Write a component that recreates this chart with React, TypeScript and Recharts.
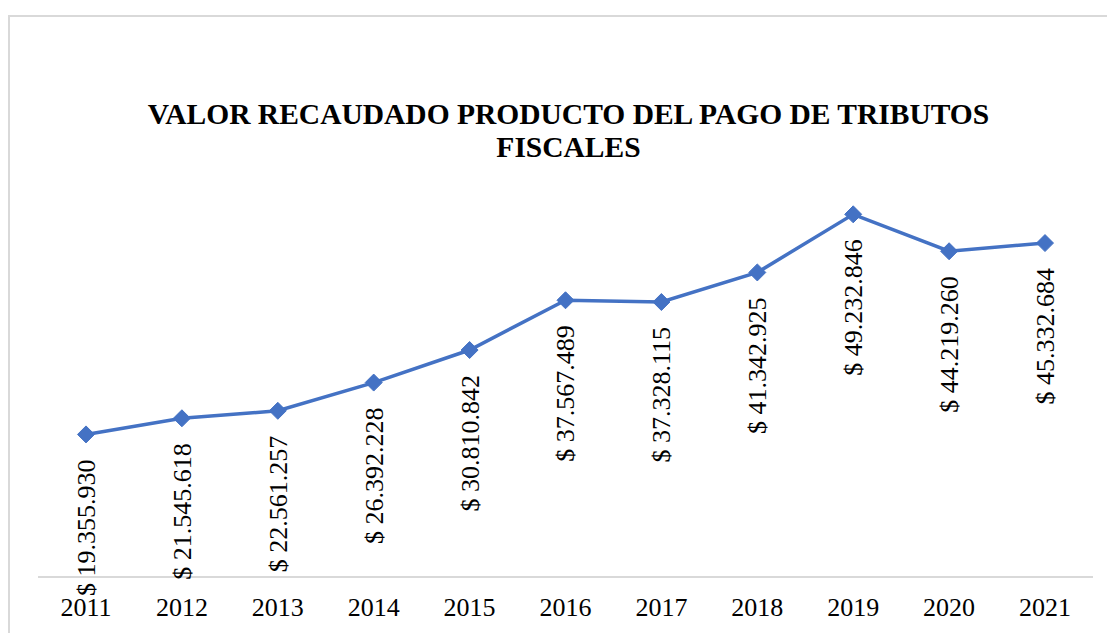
import { LabelList, Line, LineChart, XAxis, YAxis } from "recharts";

const years = ["2011", "2012", "2013", "2014", "2015", "2016", "2017", "2018", "2019", "2020", "2021"];
const recaudo = [
  19355930, 21545618, 22561257, 26392228, 30810842, 37567489, 37328115, 41342925, 49232846,
  44219260, 45332684,
];

const BLUE = "#4472C4";
const FONT = "'Liberation Serif', 'Times New Roman', serif";

const data = years.map((year, i) => ({ year, value: recaudo[i] }));

function formatPeso(v: number): string {
  return "$ " + v.toLocaleString("de-DE");
}

function Diamond(props: any) {
  const { cx, cy } = props;
  if (cx == null || cy == null) return null;
  const r = 8.5;
  return (
    <path
      d={`M${cx},${cy - r} L${cx + r},${cy} L${cx},${cy + r} L${cx - r},${cy} Z`}
      fill={BLUE}
      stroke={BLUE}
    />
  );
}

function RotatedLabel(props: any) {
  const { x, y, value } = props;
  const px = x + 9;
  const py = y + 25;
  return (
    <text
      x={px}
      y={py}
      transform={`rotate(-90, ${px}, ${py})`}
      textAnchor="end"
      fontFamily={FONT}
      style={{ fontFamily: FONT, fontSize: 26, fill: "#000" }}
    >
      {formatPeso(value)}
    </text>
  );
}

export default function App() {
  return (
    <div
      style={{
        position: "absolute",
        left: 0,
        top: 0,
        width: 1107,
        height: 633,
        background: "#fff",
        overflow: "hidden",
      }}
    >
      <div
        style={{
          position: "absolute",
          left: 8,
          top: 15,
          width: 1120,
          height: 640,
          border: "2px solid #D9D9D9",
        }}
      />
      <div
        style={{
          position: "absolute",
          left: 0,
          top: 98,
          width: 1137,
          textAlign: "center",
          fontFamily: FONT,
          fontWeight: "bold",
          fontSize: 29.5,
          lineHeight: "33px",
          color: "#000",
        }}
      >
        VALOR RECAUDADO PRODUCTO DEL PAGO DE TRIBUTOS
        <br />
        FISCALES
      </div>
      <div style={{ position: "absolute", left: 0, top: 0 }}>
        <LineChart
          width={1107}
          height={633}
          data={data}
          margin={{ top: 135, right: 14, left: 38, bottom: 26 }}
        >
          <XAxis
            dataKey="year"
            height={30}
            padding={{ left: 48, right: 48 }}
            axisLine={{ stroke: "#D9D9D9", strokeWidth: 2 }}
            tickLine={false}
            tickMargin={15}
            interval={0}
            tick={{ fontFamily: FONT, fontSize: 26, fill: "#000" }}
          />
          <YAxis hide domain={[0, 60000000]} />
          <Line
            dataKey="value"
            stroke={BLUE}
            strokeWidth={3.5}
            dot={<Diamond />}
            activeDot={false}
            isAnimationActive={false}
          >
            <LabelList dataKey="value" content={<RotatedLabel />} />
          </Line>
        </LineChart>
      </div>
    </div>
  );
}
